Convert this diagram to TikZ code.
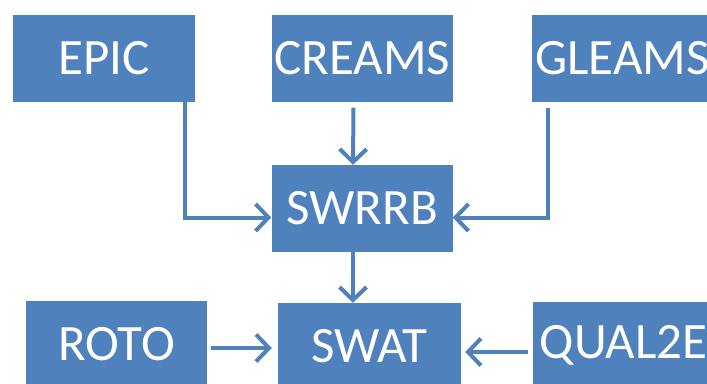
\documentclass[tikz,border=0pt]{standalone}
\usepackage{fontspec}
\setmainfont{Carlito}
\usetikzlibrary{arrows.meta}
\definecolor{modelblue}{RGB}{79,129,189}
\tikzset{
  model/.style={fill=modelblue, draw=none, text=white, inner sep=0pt,
    minimum width=181pt, minimum height=87pt, font=\fontsize{51}{54}\selectfont},
  feed/.style={draw=modelblue, line width=4pt, -{Straight Barb[length=13pt,width=27pt,line width=4pt]}}
}
\begin{document}
\begin{tikzpicture}[x=1pt,y=-1pt]
  \useasboundingbox (0,0) rectangle (707,383);
  % Top row
  \node[model, minimum width=182pt] (epic) at (104,58) {EPIC};
  \node[model] (creams) at (362.5,58) {CREAMS};
  \node[model] (gleams) at (622.5,58) {GLEAMS};
  % Middle
  \node[model] (swrrb) at (362,208.5) {SWRRB};
  % Bottom row
  \node[model, minimum height=86pt] (roto) at (116.5,344) {ROTO};
  \node[model, minimum width=183pt, minimum height=86pt] (swat) at (369.5,346) {SWAT};
  \node[model, minimum height=86pt] (qual2e) at (623.5,345) {QUAL2E};
  % Arrows into SWRRB
  \draw[feed] ([xshift=81pt]epic.south) |- ([yshift=-9pt]swrrb.west);
  \draw[feed] ([xshift=-9pt,yshift=-6pt]creams.south) -- ([xshift=-9pt]swrrb.north);
  \draw[feed] ([xshift=-75pt,yshift=-6pt]gleams.south) |- ([yshift=-9pt]swrrb.east);
  % Arrows into SWAT
  \draw[feed] ([xshift=-9pt]swrrb.south) -- ([xshift=-9pt]swrrb.south |- swat.north);
  \draw[feed, shorten <=4pt, shorten >=6pt] ([yshift=-4pt]roto.east) -- ([yshift=-4pt]roto.east -| swat.west);
  \draw[feed, shorten <=5pt, shorten >=4pt] ([yshift=-7pt]qual2e.west) -- ([yshift=-7pt]qual2e.west -| swat.east);
\end{tikzpicture}
\end{document}
